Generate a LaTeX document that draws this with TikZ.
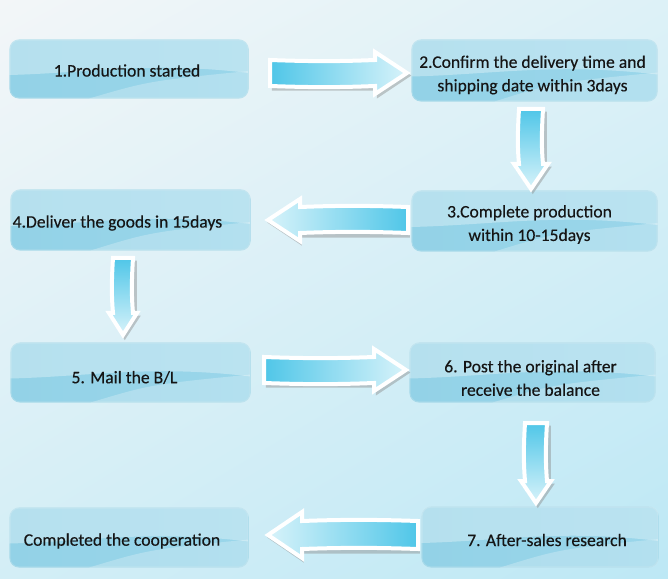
\documentclass[tikz,border=0pt]{standalone}
\usepackage{fontspec}
\setmainfont{Carlito}[FakeBold=0.35]
\usetikzlibrary{calc,shadings}
\definecolor{bgUL}{HTML}{F3F6F8}
\definecolor{bgUR}{HTML}{DDF1F7}
\definecolor{bgLL}{HTML}{D3EEF6}
\definecolor{bgLR}{HTML}{BDE8F5}
\definecolor{boxL}{HTML}{93D2E7}
\definecolor{boxM}{HTML}{D3EFF7}
\definecolor{boxR}{HTML}{9AD6EA}
\definecolor{boxEdge}{HTML}{A6D9E9}
\definecolor{arrC}{HTML}{4FC6E8}
\definecolor{arrP}{HTML}{D8F3FA}
\definecolor{txt}{HTML}{151515}
\tikzset{
  boxshape/.style={rounded corners=9pt, draw=boxEdge, line width=1.1pt,
    left color=boxL, middle color=boxM, right color=boxR, inner sep=0pt},
  boxtext/.style={text=txt, font=\fontsize{17.6}{23.5}\selectfont, align=center, inner sep=0pt},
  arrfill/.style={draw=white, line width=4pt, line join=miter},
  arrshadow/.style={fill=black!45, opacity=0.45},
}
% \barrow{tail}{length}{angle}{h}{H}{K}{shading}
\newcommand\barrow[7]{%
  \begin{scope}[shift={($#1+(1.8,-2.6)$)},rotate=#3]
    \fill[arrshadow] (0,-#4-2) -- (#2-#6,-#4-2) -- (#2-#6,-#5-2) -- (#2+2.5,0) -- (#2-#6,#5+2) -- (#2-#6,#4+2) -- (0,#4+2) -- cycle;
  \end{scope}
  \begin{scope}[shift={#1},rotate=#3]
    \path[arrfill,#7] (0,-#4) .. controls (#2*0.3,-#4-1.5) and (#2*0.5,-#4-1.5) .. (#2-#6,-#4) -- (#2-#6,-#5) -- (#2,0) -- (#2-#6,#5) -- (#2-#6,#4) .. controls (#2*0.5,#4-1.5) and (#2*0.3,#4-1.5) .. (0,#4) -- cycle;
  \end{scope}}
\newcommand\glossbox[5]{%
  \node[boxshape, minimum width=#4pt, minimum height=#5pt] (#1) at (#2,#3) {};
  \begin{scope}
    \clip[rounded corners=9pt] (#1.south west) rectangle (#1.north east);
    \fill[white, opacity=0.32] (#1.north west) -- (#1.north east) -- ($(#1.east)+(0,-4)$)
      .. controls ($(#1.center)+(20,8)$) and ($(#1.center)+(-40,-4)$) .. ($(#1.west)+(0,-6)$) -- cycle;
    \fill[white, opacity=0.25] ($(#1.south)+(-40,0)$) .. controls ($(#1.center)+(20,-12)$) .. ($(#1.east)+(0,-2)$) -- (#1.south east) -- cycle;
  \end{scope}}
\begin{document}
\begin{tikzpicture}[x=1pt,y=1pt]
\useasboundingbox (0,0) rectangle (668,578);
\fill[upper left=bgUL, upper right=bgUR, lower left=bgLL, lower right=bgLR] (0,0) rectangle (668,578);

\glossbox{b1}{129}{509}{238}{58}
\glossbox{b2}{534.5}{507.5}{245}{61}
\glossbox{b3}{534.5}{357}{245}{60}
\glossbox{b4}{130.5}{358}{239}{60}
\glossbox{b5}{130.5}{205.5}{239}{59}
\glossbox{b6}{532.5}{205.5}{245}{59}
\glossbox{b7}{540}{41}{236}{60}
\glossbox{b8}{129}{40.5}{238}{59}

\node[boxtext] (t1) at ($(b1.center)+(-2,-1.5)$) {1.Production started};
\node[boxtext] (t2) at ($(b2.center)+(-2,-4.5)$) {2.Confirm the delivery time and\\shipping date within 3days};
\node[boxtext] (t3) at ($(b3.center)+(-5,-3.5)$) {3.Complete production\\within 10-15days};
\node[boxtext, anchor=west] (t4) at ($(b4.west)+(2,-3)$) {4.Deliver the goods in 15days};
\node[boxtext] (t5) at ($(b5.center)+(-6,-5)$) {5. Mail the B/L};
\node[boxtext] (t6) at ($(b6.center)+(-2,-5.5)$) {6. Post the original after\\receive the balance};
\node[boxtext] (t7) at ($(b7.center)+(7,-3)$) {7. After-sales research};
\node[boxtext] (t8) at ($(b8.center)+(-7,-3.5)$) {Completed the cooperation};

\barrow{(270,505)}{137}{0}{13}{21}{32}{left color=arrC, right color=arrP}
\barrow{(531,469)}{80}{-90}{12}{17}{25}{top color=arrC, bottom color=arrP}
\barrow{(408,358)}{140}{180}{13}{21}{32}{right color=arrC, left color=arrP}
\barrow{(123,320)}{77}{-90}{10}{14}{22}{top color=arrC, bottom color=arrP}
\barrow{(264,208)}{142}{0}{13}{21}{32}{left color=arrC, right color=arrP}
\barrow{(536,155)}{80}{-90}{11}{15}{22}{top color=arrC, bottom color=arrP}
\barrow{(418,43)}{150}{180}{14}{23}{34}{right color=arrC, left color=arrP}
\end{tikzpicture}
\end{document}
